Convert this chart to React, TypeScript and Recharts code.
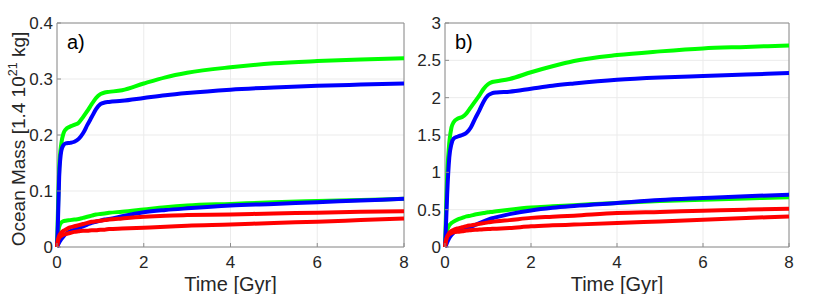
import {
  CartesianGrid,
  Line,
  LineChart,
  ReferenceArea,
  XAxis,
  YAxis,
} from "recharts";

// time grid shared by every curve [Gyr]
const time = [
  0, 0.02, 0.05, 0.1, 0.15, 0.2, 0.3, 0.4, 0.5, 0.6, 0.7, 0.8, 0.9, 1.0, 1.1,
  1.2, 1.5, 2, 2.5, 3, 4, 5, 6, 7, 8,
];

// panel a)
const greenHighA = [
  0, 0.06, 0.14, 0.185, 0.203, 0.21, 0.215, 0.218, 0.222, 0.232, 0.243, 0.255,
  0.266, 0.273, 0.276, 0.277, 0.28, 0.292, 0.303, 0.311, 0.321, 0.328, 0.332,
  0.335, 0.337,
];
const blueHighA = [
  0, 0.04, 0.125, 0.172, 0.182, 0.185, 0.186, 0.188, 0.193, 0.203, 0.218,
  0.232, 0.246, 0.255, 0.258, 0.259, 0.261, 0.266, 0.271, 0.275, 0.281, 0.285,
  0.288, 0.29, 0.292,
];
const greenLowA = [
  0, 0.02, 0.036, 0.044, 0.046, 0.047, 0.048, 0.049, 0.05, 0.052, 0.054, 0.056,
  0.058, 0.059, 0.06, 0.061, 0.063, 0.067, 0.071, 0.074, 0.077, 0.08, 0.082,
  0.084, 0.086,
];
const blueLowA = [
  0, 0.003, 0.008, 0.014, 0.019, 0.023, 0.028, 0.031, 0.034, 0.037, 0.04,
  0.043, 0.045, 0.047, 0.049, 0.05, 0.055, 0.062, 0.066, 0.069, 0.074, 0.077,
  0.08, 0.083, 0.086,
];
const redHighA = [
  0, 0.012, 0.02, 0.026, 0.029, 0.031, 0.035, 0.037, 0.039, 0.041, 0.043,
  0.045, 0.046, 0.047, 0.048, 0.049, 0.051, 0.054, 0.056, 0.057, 0.058, 0.06,
  0.061, 0.063, 0.064,
];
const redLowA = [
  0, 0.01, 0.016, 0.02, 0.022, 0.023, 0.025, 0.027, 0.028, 0.029, 0.029, 0.03,
  0.03, 0.031, 0.031, 0.032, 0.033, 0.0345, 0.036, 0.038, 0.04, 0.043, 0.045,
  0.048, 0.051,
];

// panel b)
const greenHighB = [
  0, 0.4, 0.95, 1.4, 1.6, 1.67, 1.72, 1.74, 1.79, 1.87, 1.95, 2.03, 2.12, 2.18,
  2.21, 2.22, 2.25, 2.34, 2.42, 2.49, 2.57, 2.62, 2.66, 2.68, 2.7,
];
const blueHighB = [
  0, 0.25, 0.7, 1.2, 1.38, 1.45, 1.48, 1.5, 1.53, 1.6, 1.72, 1.83, 1.95, 2.03,
  2.06, 2.07, 2.08, 2.12, 2.16, 2.19, 2.24, 2.27, 2.29, 2.31, 2.33,
];
const greenLowB = [
  0, 0.12, 0.22, 0.29, 0.32, 0.34, 0.37, 0.39, 0.41, 0.42, 0.435, 0.445, 0.455,
  0.464, 0.47, 0.478, 0.5, 0.53, 0.545, 0.56, 0.59, 0.615, 0.634, 0.65, 0.665,
];
const blueLowB = [
  0, 0.02, 0.06, 0.12, 0.16, 0.19, 0.22, 0.235, 0.25, 0.27, 0.295, 0.32, 0.345,
  0.366, 0.385, 0.4, 0.44, 0.49, 0.525, 0.55, 0.59, 0.63, 0.656, 0.68, 0.7,
];
const redHighB = [
  0, 0.08, 0.14, 0.19, 0.215, 0.23, 0.25, 0.265, 0.28, 0.29, 0.3, 0.31, 0.32,
  0.33, 0.337, 0.344, 0.36, 0.39, 0.405, 0.42, 0.455, 0.47, 0.485, 0.5, 0.513,
];
const redLowB = [
  0, 0.08, 0.13, 0.17, 0.185, 0.196, 0.205, 0.212, 0.22, 0.225, 0.23, 0.233,
  0.237, 0.24, 0.243, 0.246, 0.255, 0.277, 0.29, 0.3, 0.32, 0.343, 0.366,
  0.388, 0.41,
];

const xTicks = [0, 2, 4, 6, 8];
const yTicksA = [0, 0.1, 0.2, 0.3, 0.4];
const yTicksB = [0, 0.5, 1, 1.5, 2, 2.5, 3];

const GREEN = "#00ff00";
const BLUE = "#0000ff";
const RED = "#ff0000";
const INK = "#262626";
const FONT = "'Liberation Sans', Arial, Helvetica, sans-serif";

const rowsA = time.map((t, i) => ({
  t,
  gH: greenHighA[i],
  bH: blueHighA[i],
  gL: greenLowA[i],
  bL: blueLowA[i],
  rH: redHighA[i],
  rL: redLowA[i],
}));

const rowsB = time.map((t, i) => ({
  t,
  gH: greenHighB[i],
  bH: blueHighB[i],
  gL: greenLowB[i],
  bL: blueLowB[i],
  rH: redHighB[i],
  rL: redLowB[i],
}));

const series = [
  { key: "gH", color: GREEN },
  { key: "gL", color: GREEN },
  { key: "bH", color: BLUE },
  { key: "bL", color: BLUE },
  { key: "rH", color: RED },
  { key: "rL", color: RED },
];

const YLabel = () => (
  <text
    transform="translate(25,139) rotate(-90)"
    textAnchor="middle"
    fontSize={19}
    fill={INK}
    fontFamily={FONT}
  >
    Ocean Mass [1.4 10
    <tspan dy={-8} fontSize={12.5}>
      21
    </tspan>
    <tspan dy={8}> kg]</tspan>
  </text>
);

interface PanelProps {
  rows: typeof rowsA;
  yTicks: number[];
  yMax: number;
  yWidth: number;
  marginRight: number;
  tag: string;
  withYLabel?: boolean;
}

function Panel({ rows, yTicks, yMax, yWidth, marginRight, tag, withYLabel }: PanelProps) {
  const tick = { fontSize: 17, fill: INK, fontFamily: FONT };
  return (
    <div style={{ position: "relative", width: 415, height: 294 }}>
      <LineChart
        width={415}
        height={294}
        data={rows}
        margin={{ top: 23, right: marginRight, bottom: 0, left: 0 }}
      >
        <CartesianGrid stroke="#ebebeb" strokeWidth={1} />
        <XAxis
          dataKey="t"
          type="number"
          domain={[0, 8]}
          ticks={xTicks}
          height={47}
          tick={tick}
          tickSize={-4}
          tickMargin={13}
          stroke="#8c8c8c"
          axisLine={false}
          label={{
            value: "Time [Gyr]",
            position: "insideBottom",
            offset: 3,
            fontSize: 20,
            fill: INK,
            fontFamily: FONT,
          }}
        />
        <YAxis
          type="number"
          domain={[0, yMax]}
          ticks={yTicks}
          width={yWidth}
          tick={tick}
          tickSize={-4}
          tickMargin={8}
          stroke="#8c8c8c"
          axisLine={false}
          label={withYLabel ? <YLabel /> : undefined}
        />
        <ReferenceArea
          x1={0}
          x2={8}
          y1={0}
          y2={yMax}
          fill="none"
          stroke="#8c8c8c"
          strokeWidth={1}
          ifOverflow="visible"
        />
        {series.map((s) => (
          <Line
            key={s.key}
            dataKey={s.key}
            type="monotone"
            stroke={s.color}
            strokeWidth={4}
            dot={false}
            isAnimationActive={false}
          />
        ))}
      </LineChart>
      <div
        style={{
          position: "absolute",
          left: yWidth + 10,
          top: 32,
          fontSize: 20,
          lineHeight: "20px",
          color: "#000",
          fontFamily: FONT,
        }}
      >
        {tag}
      </div>
    </div>
  );
}

export default function App() {
  return (
    <div
      style={{
        position: "absolute",
        left: 0,
        top: 0,
        width: 830,
        height: 294,
        display: "flex",
        background: "#fff",
      }}
    >
      <Panel rows={rowsA} yTicks={yTicksA} yMax={0.4} yWidth={57} marginRight={11} tag="a)" withYLabel />
      <Panel rows={rowsB} yTicks={yTicksB} yMax={3} yWidth={30} marginRight={41} tag="b)" />
    </div>
  );
}
